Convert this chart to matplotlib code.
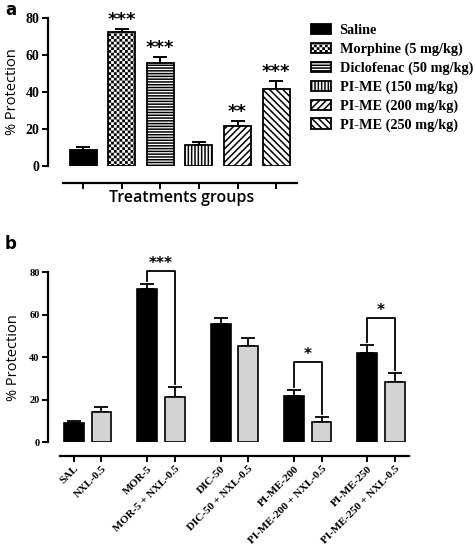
import warnings
import numpy as np
import matplotlib
matplotlib.use('Agg')
import matplotlib.pyplot as plt
import matplotlib.hatch as mhatch
from matplotlib.path import Path

warnings.filterwarnings('ignore')
plt.rcParams['hatch.linewidth'] = 1.1


# checkerboard hatch ('c'), matplotlib has none built in
class CheckerHatch(mhatch.HatchPatternBase):
    def __init__(self, hatch, density):
        self.n = hatch.count('c') * density
        self.num_vertices = 2 * self.n * self.n * 5

    def set_vertices_and_codes(self, vertices, codes):
        n = self.n
        cell = 1.0 / (2 * n)
        side = cell * 0.45
        pad = (cell - side) / 2
        sq = np.array([[0, 0], [side, 0], [side, side], [0, side], [0, 0]])
        k = 0
        for i in range(n):
            for j in range(n):
                for dx, dy in [(0, 0), (cell, cell)]:
                    vertices[k:k + 5] = sq + (i / n + dx + pad, j / n + dy + pad)
                    codes[k:k + 5] = [Path.MOVETO, Path.LINETO, Path.LINETO,
                                      Path.LINETO, Path.CLOSEPOLY]
                    k += 5


mhatch._hatch_types.append(CheckerHatch)

# panel a data
a_labels = ['Saline', 'Morphine (5 mg/kg)', 'Diclofenac (50 mg/kg)',
            'PI-ME (150 mg/kg)', 'PI-ME (200 mg/kg)', 'PI-ME (250 mg/kg)']
a_means = [8.6, 72.3, 55.8, 11.3, 21.6, 41.6]
a_errs = [1.6, 1.8, 2.9, 1.5, 2.9, 4.3]
a_stars = ['', '***', '***', '', '**', '***']

# panel b data
b_labels = ['SAL', 'NXL-0.5', 'MOR-5', 'MOR-5 + NXL-0.5', 'DIC-50',
            'DIC-50 + NXL-0.5', 'PI-ME-200', 'PI-ME-200 + NXL-0.5',
            'PI-ME-250', 'PI-ME-250 + NXL-0.5']
b_means = [8.9, 14.4, 72.1, 21.5, 55.8, 45.3, 21.6, 9.7, 41.9, 28.4]
b_errs = [1.1, 2.4, 2.1, 4.5, 2.8, 3.5, 2.9, 2.3, 3.7, 4.2]
b_pairs = [(2, 3), (6, 7), (8, 9)]
b_pair_stars = ['***', '*', '*']
b_bracket_y = [80.6, 37.6, 58.6]

serif = 'Liberation Serif'
sans = 'Open Sans'

fig = plt.figure(figsize=(4.75, 5.48), dpi=100)
W, H = 475.0, 548.0

def style_axes(ax, offset, ysize):
    for s in ['top', 'right']:
        ax.spines[s].set_visible(False)
    ax.spines['left'].set_linewidth(1.6)
    ax.spines['bottom'].set_linewidth(1.6)
    ax.spines['bottom'].set_position(('outward', offset))
    ax.spines['left'].set_bounds(0, 80)
    ax.set_yticks([0, 20, 40, 60, 80])
    ax.set_yticklabels(['0', '20', '40', '60', '80'], fontfamily=serif,
                       fontweight='bold', fontsize=ysize)
    ax.tick_params(axis='both', width=1.4, length=4, direction='out', pad=2)

# ---------------- panel a ----------------
axa = fig.add_axes([48/W, 1-166/H, 249/W, 148/H])
xa = np.arange(len(a_means))
hatches = ['', 'ccc', '------', '|||||', '/////', '\\\\\\\\\\']
colors = ['black', 'white', 'white', 'white', 'white', 'white']
bars = []
for i in range(len(a_means)):
    b = axa.bar(xa[i], a_means[i], 0.7, color=colors[i], edgecolor='black',
                linewidth=1.3, hatch=hatches[i], label=a_labels[i], zorder=2)
    bars.append(b)
axa.errorbar(xa, a_means, yerr=[np.zeros(len(a_errs)), a_errs], fmt='none',
             ecolor='black', elinewidth=1.4, capsize=5, capthick=1.4, zorder=1)
for i in range(len(a_means)):
    if a_stars[i]:
        axa.annotate(a_stars[i], (xa[i], a_means[i] + a_errs[i]),
                     xytext=(0, 3), textcoords='offset points',
                     ha='center', va='baseline', fontsize=13, fontweight='bold',
                     annotation_clip=False)
axa.set_xlim(-0.907, 5.54)
axa.set_ylim(0, 80)
style_axes(axa, 12, 10)
axa.spines['bottom'].set_bounds(-0.52, 5.54)
axa.set_xticks(xa)
axa.set_xticklabels([])
axa.set_ylabel('% Protection', fontfamily=sans, fontsize=10.5, labelpad=4)
axa.set_xlabel('Treatments groups', fontfamily=sans, fontsize=11.5,
               fontweight='semibold')
axa.xaxis.set_label_coords(0.538, -0.165)

fig.legend(handles=[b[0] for b in bars], labels=a_labels, loc='upper left',
           bbox_to_anchor=(311/W, 1-24/H), frameon=False, borderpad=0,
           borderaxespad=0, handlelength=1.4, handleheight=0.75,
           handletextpad=0.6, labelspacing=0.38,
           prop={'family': serif, 'weight': 'bold', 'size': 10.3})

fig.text(5/W, 1-1/H, 'a', fontsize=12, fontweight='bold', va='top')

# ---------------- panel b ----------------
axb = fig.add_axes([48/W, 1-442.3/H, 361/W, 170.3/H])
xb = np.array([g * 8/3 + k for g in range(5) for k in range(2)])
bcolors = ['black', '#d3d3d3'] * 5
axb.bar(xb, b_means, 0.72, color=bcolors, edgecolor='black', linewidth=1.2,
        zorder=2)
axb.errorbar(xb, b_means, yerr=[np.zeros(len(b_errs)), b_errs], fmt='none',
             ecolor='black', elinewidth=1.3, capsize=5, capthick=1.3, zorder=1)
tops = np.array(b_means) + np.array(b_errs)
for (i, j), st, yb in zip(b_pairs, b_pair_stars, b_bracket_y):
    axb.plot([xb[i], xb[i], xb[j], xb[j]],
             [tops[i] + 1.5, yb, yb, tops[j] + 1.5],
             color='black', linewidth=1.3, clip_on=False)
    axb.annotate(st, ((xb[i] + xb[j]) / 2, yb), xytext=(0, 2),
                 textcoords='offset points', ha='center', va='baseline',
                 fontsize=11, fontweight='bold', annotation_clip=False)
axb.set_xlim(-0.945, 12.18)
axb.set_ylim(0, 80)
style_axes(axb, 9.6, 7.5)
axb.spines['bottom'].set_bounds(-0.51, 12.18)
axb.set_xticks(xb)
axb.set_xticklabels(b_labels, rotation=45, ha='right', rotation_mode='anchor',
                    fontfamily=serif, fontweight='bold', fontsize=8)
axb.set_ylabel('% Protection', fontfamily=sans, fontsize=10.5, labelpad=6)

fig.text(5/W, 1-235/H, 'b', fontsize=12, fontweight='bold', va='top')

fig.savefig('out.png', dpi=100)
